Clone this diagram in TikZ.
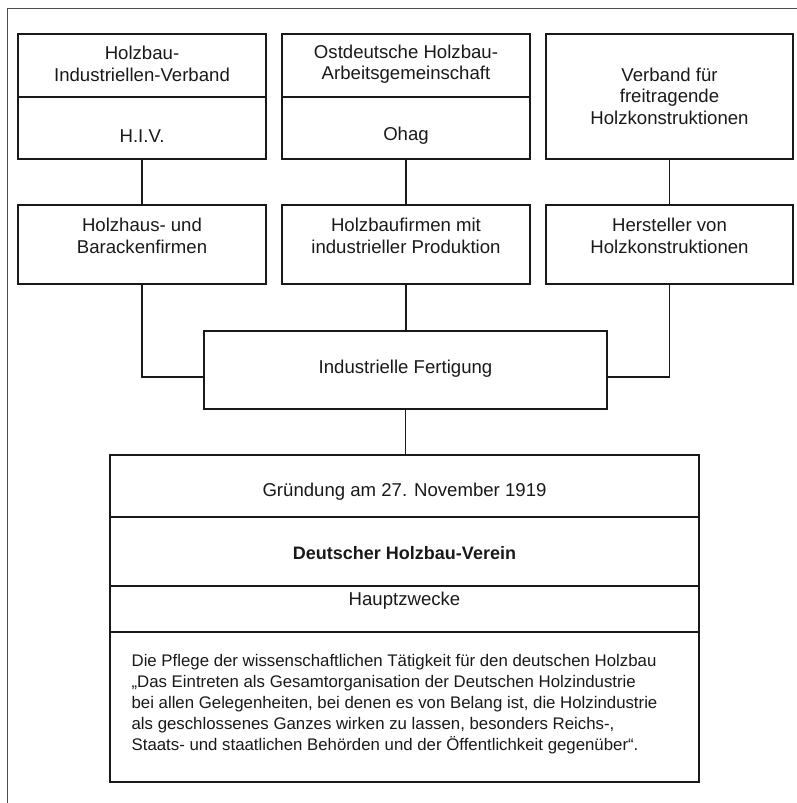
\documentclass[tikz,border=0pt]{standalone}
\usepackage{fontspec}
\setmainfont{Liberation Sans}
\begin{document}
\begin{tikzpicture}[x=1pt,y=-1pt,
  line width=1.25pt,
  box/.style={draw=black!90, rectangle, inner sep=0pt, anchor=center},
  lbl/.style={inner sep=0pt, align=center, text=black!90, font=\fontsize{18.6}{21.5}\selectfont},
  para/.style={inner sep=0pt, align=left, text=black!90, font=\fontsize{16.8}{21}\selectfont},
  link/.style={draw=black!90}]
\useasboundingbox (0,0) rectangle (797,803);
% outer frame (left and top)
\draw[black!70, line width=1pt] (7,803) -- (7,8) -- (797,8);
% top row
\node[box, minimum width=248pt, minimum height=63pt] (a1) at (142,65.5) {};
\node[box, minimum width=248pt, minimum height=62pt] (a2) at (142,128) {};
\node[box, minimum width=248pt, minimum height=63pt] (b1) at (406,65.5) {};
\node[box, minimum width=248pt, minimum height=62pt] (b2) at (406,128) {};
\node[box, minimum width=247pt, minimum height=125pt] (c1) at (669.5,96.5) {};
\node[lbl] (ta1) at (142,64) {Holzbau-\\Industriellen-Verband};
\node[lbl] (ta2) at (142,136) {H.I.V.};
\node[lbl] (tb1) at (406,64) {Ostdeutsche Holzbau-\\Arbeitsgemeinschaft};
\node[lbl] (tb2) at (406,136) {Ohag};
\node[lbl] (tc1) at (669.5,96) {Verband für\\freitragende\\Holzkonstruktionen};
% second row
\node[box, minimum width=248pt, minimum height=79pt] (a3) at (142,244.5) {};
\node[box, minimum width=248pt, minimum height=79pt] (b3) at (406,244.5) {};
\node[box, minimum width=247pt, minimum height=79pt] (c3) at (669.5,244.5) {};
\node[lbl] (ta3) at (142,236) {Holzhaus- und\\Barackenfirmen};
\node[lbl] (tb3) at (406,236) {Holzbaufirmen mit\\industrieller Produktion};
\node[lbl] (tc3) at (669.5,236) {Hersteller von\\Holzkonstruktionen};
% Fertigung
\node[box, minimum width=403pt, minimum height=78pt] (f) at (405.5,370) {};
\node[lbl] (tf) at (405.5,369) {Industrielle Fertigung};
% big box
\node[box, minimum width=589pt, minimum height=62pt] (g) at (404.5,486) {};
\node[box, minimum width=589pt, minimum height=69pt] (d) at (404.5,551.5) {};
\node[box, minimum width=589pt, minimum height=46pt] (h) at (404.5,609) {};
\node[box, minimum width=589pt, minimum height=150pt] (p) at (404.5,707) {};
\node[lbl] (tg) at (404.5,492) {Gründung am 27. November 1919};
\node[lbl, font=\fontsize{18}{21.5}\selectfont\bfseries] (td) at (404.5,553) {Deutscher Holzbau-Verein};
\node[lbl] (th) at (404.5,601) {Hauptzwecke};
\node[para, anchor=west] (tp) at (131,704) {Die Pflege der wissenschaftlichen Tätigkeit für den deutschen Holzbau\\
„Das Eintreten als Gesamtorganisation der Deutschen Holzindustrie\\
bei allen Gelegenheiten, bei denen es von Belang ist, die Holzindustrie\\
als geschlossenes Ganzes wirken zu lassen, besonders Reichs-,\\
Staats- und staatlichen Behörden und der Öffentlichkeit gegenüber“.};
% connectors
\draw[link] (a2.south) -- (a3.north);
\draw[link] (b2.south) -- (b3.north);
\draw[link] (c1.south) -- (c3.north);
\draw[link] (a3.south) |- ([yshift=-7pt]f.west);
\draw[link] (c3.south) |- ([yshift=-7pt]f.east);
\draw[link] (b3.south) -- (b3.south |- f.north);
\draw[link] (f.south) -- (f.south |- g.north);
\end{tikzpicture}
\end{document}
